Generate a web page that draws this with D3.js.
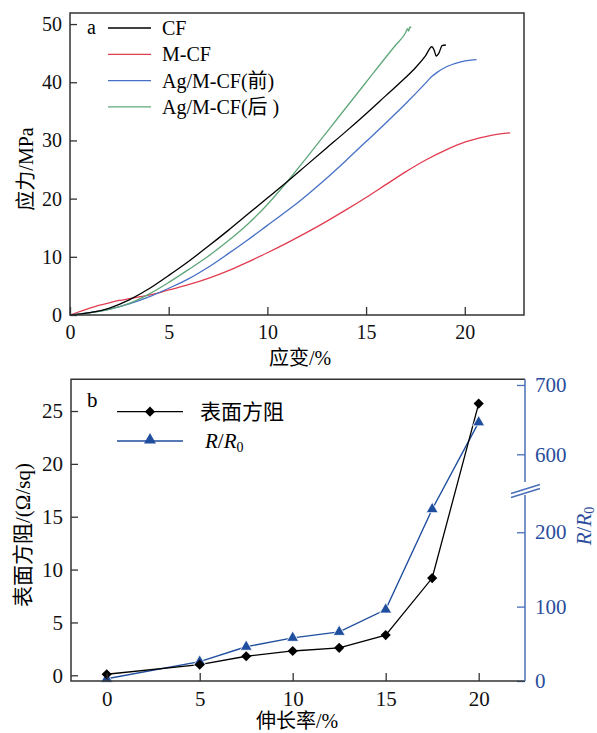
<!DOCTYPE html>
<html><head><meta charset="utf-8">
<script src="https://cdn.jsdelivr.net/npm/d3@7"></script>
<style>
html,body{margin:0;padding:0;background:#fff;}
svg text{font-family:"Liberation Serif","Times New Roman","Noto Sans CJK SC",serif;}
.cjk{font-family:"Liberation Serif","Noto Sans CJK SC",serif;}
</style></head>
<body>
<svg id="c" width="597" height="733"></svg>
<script>
// ---------- Panel a data: stress-strain curves ----------
const cfStrain  = [0,1,2,3,4,5,6,7,8,9,10,11,12,13,14,15,16,17,17.5,18,18.33,18.45,18.55,18.7,18.85,19.04];
const cfStress  = [0,0.4,1.2,2.6,4.5,6.8,9.2,11.8,14.5,17.3,20.1,22.9,25.8,28.7,31.6,34.6,37.7,40.8,42.5,44.5,46.1,45.5,44.5,45.1,46.3,46.4];
const mcfStrain = [0,0.5,1,1.5,2,2.5,3,3.5,4,5,6,7,8,9,10,11,12,13,14,15,16,17,18,19,20,21,22,22.3];
const mcfStress = [0,0.6,1.2,1.7,2.1,2.5,2.8,3.1,3.4,4.3,5.2,6.3,7.6,9.1,10.7,12.4,14.2,16.1,18.1,20.2,22.4,24.6,26.6,28.3,29.7,30.6,31.2,31.3];
const agBStrain = [0,1,2,3,4,5,6,7,8,9,10,11,12,13,14,15,16,17,18,18.3,18.6,19.1,19.8,20.3,20.6];
const agBStress = [0,0.4,1.0,1.9,3.1,4.6,6.2,8.2,10.5,12.9,15.4,17.9,20.6,23.5,26.6,29.8,33.0,36.3,39.8,40.9,41.7,42.7,43.5,43.8,43.9];
const agAStrain = [0,1,2,3,4,5,6,7,8,9,10,11,12,13,14,15,16,16.5,17,17.1,17.15,17.22,17.28];
const agAStress = [0,0.35,0.95,2.0,3.6,5.6,7.8,10.1,12.7,15.6,19.0,22.9,27.1,31.4,35.7,40.0,44.3,46.4,48.5,49.2,48.8,49.5,49.3];
const seriesNamesA = ["CF","M-CF","Ag/M-CF(前)","Ag/M-CF(后 )"];
const seriesColorsA = ["#000000","#e23c50","#4670c6","#5fa77a"];
const xTicksA = [0,5,10,15,20];
const yTicksA = [0,10,20,30,40,50];

// ---------- Panel b data ----------
const elongation = [0,5,7.5,10,12.5,15,17.5,20];
const sheetRes   = [0.1,1.0,1.8,2.3,2.6,3.8,9.2,25.7];
const rRatio     = [3,26,46,58,66,96,231,646];
const xTicksB = [0,5,10,15,20];
const yTicksB = [0,5,10,15,20,25];
const rTicksB = [0,100,200,600,700];

const svg = d3.select("#c");
const FS = 20;

// ================= Panel a =================
const A = {l:70, t:13, r:524, b:315};
const xA = d3.scaleLinear().domain([0,23]).range([A.l, A.r]);
const yA = d3.scaleLinear().domain([0,51.9]).range([A.b, A.t]);

const seriesA = [
  cfStrain.map((x,i)=>[x,cfStress[i]]),
  mcfStrain.map((x,i)=>[x,mcfStress[i]]),
  agBStrain.map((x,i)=>[x,agBStress[i]]),
  agAStrain.map((x,i)=>[x,agAStress[i]])
];
const lineA = d3.line().x(d=>xA(d[0])).y(d=>yA(d[1])).curve(d3.curveMonotoneX);
const gA = svg.append("g");
[1,2,3,0].forEach(i=>{
  gA.append("path").attr("d", lineA(seriesA[i])).attr("fill","none")
    .attr("stroke", seriesColorsA[i]).attr("stroke-width",1.3);
});

const axXA = svg.append("g").attr("transform",`translate(0,${A.b})`)
  .call(d3.axisBottom(xA).tickValues(xTicksA).tickSizeInner(-8).tickSizeOuter(0).tickPadding(10));
const axYA = svg.append("g").attr("transform",`translate(${A.l},0)`)
  .call(d3.axisLeft(yA).tickValues(yTicksA).tickSizeInner(-7).tickSizeOuter(0).tickPadding(8));
[axXA,axYA].forEach(g=>{
  g.select(".domain").remove();
  g.selectAll(".tick line").attr("stroke","#333").attr("stroke-width",1.3);
  g.selectAll(".tick text").attr("font-size",FS).attr("fill","#111")
    .style("font-family","'Liberation Serif',serif");
});
svg.append("rect").attr("x",A.l).attr("y",A.t).attr("width",A.r-A.l).attr("height",A.b-A.t)
  .attr("fill","none").attr("stroke","#333").attr("stroke-width",1.5);

svg.append("text").attr("x",87).attr("y",34).attr("font-size",FS).text("a");
seriesNamesA.forEach((n,i)=>{
  const yy = 28 + i*26.3;
  svg.append("line").attr("x1",108).attr("x2",151).attr("y1",yy).attr("y2",yy)
    .attr("stroke",seriesColorsA[i]).attr("stroke-width",1.3);
  svg.append("text").attr("class","cjk").attr("x",162).attr("y",yy+7).attr("font-size",FS).text(n);
});
svg.append("text").attr("class","cjk").attr("x",300).attr("y",365).attr("text-anchor","middle")
  .attr("font-size",FS).text("应变/%");
svg.append("text").attr("class","cjk").attr("transform","translate(33,169) rotate(-90)")
  .attr("text-anchor","middle").attr("font-size",FS).text("应力/MPa");

// ================= Panel b =================
const B = {l:71, t:379.3, r:525, b:681};
const xB = d3.scaleLinear().domain([-1.92,22.49]).range([B.l,B.r]);
const yB = d3.scaleLinear().domain([-0.54,28.0]).range([B.b,B.t]);
const rB = d3.scaleLinear().domain([0,256.8,548.5,708.2]).range([B.b,490,490,B.t]);
const blueLine = "#1f4e9e", blueAxis = "#4a6fb8", blueText = "#2a4c9c";

const ptsS = elongation.map((x,i)=>[x,sheetRes[i]]);
const ptsR = elongation.map((x,i)=>[x,rRatio[i]]);
svg.append("path").attr("d", d3.line().x(d=>xB(d[0])).y(d=>rB(d[1]))(ptsR))
  .attr("fill","none").attr("stroke",blueLine).attr("stroke-width",1.4);
svg.append("path").attr("d", d3.line().x(d=>xB(d[0])).y(d=>yB(d[1]))(ptsS))
  .attr("fill","none").attr("stroke","#000").attr("stroke-width",1.3);
const tri = d3.symbol().type(d3.symbolTriangle).size(62);
const dia = d3.symbol().type(d3.symbolSquare).size(52);
svg.selectAll(".tri").data(ptsR).join("path")
  .attr("d",tri).attr("transform",d=>`translate(${xB(d[0])},${rB(d[1])})`)
  .attr("fill",blueLine).attr("stroke","#fff").attr("stroke-width",0.8);
svg.selectAll(".dia").data(ptsS).join("path")
  .attr("d",dia).attr("transform",d=>`translate(${xB(d[0])},${yB(d[1])}) rotate(45)`)
  .attr("fill","#000");

const axXB = svg.append("g").attr("transform",`translate(0,${B.b})`)
  .call(d3.axisBottom(xB).tickValues(xTicksB).tickSizeInner(-8).tickSizeOuter(0).tickPadding(10));
const axYB = svg.append("g").attr("transform",`translate(${B.l},0)`)
  .call(d3.axisLeft(yB).tickValues(yTicksB).tickSizeInner(-7).tickSizeOuter(0).tickPadding(8));
[axXB,axYB].forEach(g=>{
  g.select(".domain").remove();
  g.selectAll(".tick line").attr("stroke","#333").attr("stroke-width",1.3);
  g.selectAll(".tick text").attr("font-size",FS+1).attr("fill","#111")
    .style("font-family","'Liberation Serif',serif");
});
const axRB = svg.append("g").attr("transform",`translate(${B.r},0)`)
  .call(d3.axisRight(rB).tickValues(rTicksB).tickSizeInner(-8).tickSizeOuter(0).tickPadding(10));
axRB.select(".domain").remove();
axRB.selectAll(".tick line").attr("stroke",blueAxis).attr("stroke-width",1.3);
axRB.selectAll(".tick text").attr("font-size",FS+1).attr("fill",blueText)
  .style("font-family","'Liberation Serif',serif");

svg.append("path").attr("d",`M${B.r},${B.t}H${B.l}V${B.b}H${B.r}`)
  .attr("fill","none").attr("stroke","#333").attr("stroke-width",1.5);
svg.append("line").attr("x1",B.r).attr("x2",B.r).attr("y1",B.b).attr("y2",rB(250))
  .attr("stroke",blueAxis).attr("stroke-width",1.5);
svg.append("line").attr("x1",B.r).attr("x2",B.r).attr("y1",rB(560)).attr("y2",B.t)
  .attr("stroke",blueAxis).attr("stroke-width",1.5);
[-2,2].forEach(o=>{
  svg.append("line").attr("x1",B.r-14).attr("y1",491+o+4.5).attr("x2",B.r+15).attr("y2",491+o-4.5)
    .attr("stroke",blueAxis).attr("stroke-width",1.4);
});

svg.append("text").attr("x",87).attr("y",407).attr("font-size",FS+1).text("b");
svg.append("line").attr("x1",117).attr("x2",183).attr("y1",411.7).attr("y2",411.7).attr("stroke","#000").attr("stroke-width",1.3);
svg.append("path").attr("d",dia).attr("transform","translate(150,411.7) rotate(45)").attr("fill","#000");
svg.append("text").attr("class","cjk").attr("x",200).attr("y",419).attr("font-size",FS+1).text("表面方阻");
svg.append("line").attr("x1",117).attr("x2",183).attr("y1",441).attr("y2",441).attr("stroke",blueLine).attr("stroke-width",1.4);
svg.append("path").attr("d",tri).attr("transform","translate(150,440)").attr("fill",blueLine);
const rl = svg.append("text").attr("x",205).attr("y",448).attr("font-size",FS+1);
rl.append("tspan").attr("font-style","italic").text("R");
rl.append("tspan").text("/");
rl.append("tspan").attr("font-style","italic").text("R");
rl.append("tspan").attr("font-size",14).attr("dy",4).text("0");

svg.append("text").attr("class","cjk").attr("x",297).attr("y",728).attr("text-anchor","middle")
  .attr("font-size",FS).text("伸长率/%");
svg.append("text").attr("class","cjk").attr("transform","translate(30,535) rotate(-90)")
  .attr("text-anchor","middle").attr("font-size",FS+1).text("表面方阻/(Ω/sq)");
const rt = svg.append("text").attr("transform","translate(591,526) rotate(-90)")
  .attr("text-anchor","middle").attr("font-size",FS+1).attr("fill",blueText);
rt.append("tspan").attr("font-style","italic").text("R");
rt.append("tspan").text("/");
rt.append("tspan").attr("font-style","italic").text("R");
rt.append("tspan").attr("font-size",14).attr("dy",3).text("0");
</script>
</body></html>
